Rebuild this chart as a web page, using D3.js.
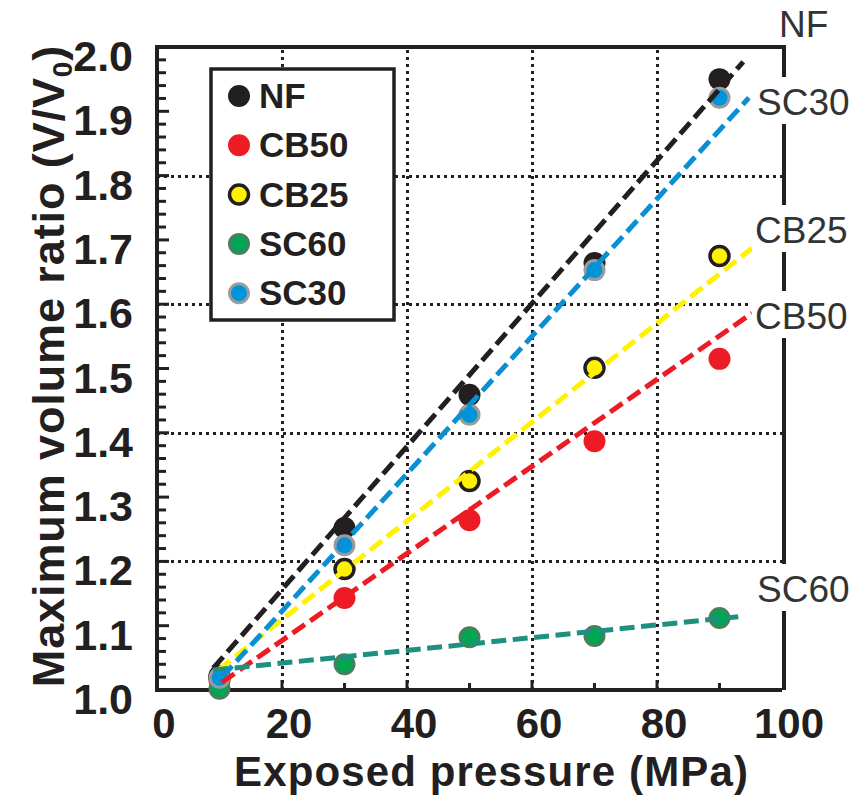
<!DOCTYPE html>
<html>
<head>
<meta charset="utf-8">
<script src="https://cdn.jsdelivr.net/npm/d3@7"></script>
<style>
  body { margin: 0; background: #fff; }
  svg text { font-family: "Liberation Sans", Arial, Helvetica, sans-serif; fill: #231f20; }
</style>
</head>
<body>
<div id="chart"></div>
<script>
// Maximum volume ratio vs exposed pressure

// data
const pressures = [10, 30, 50, 70, 90];
const seriesNames = ["NF", "CB50", "CB25", "SC60", "SC30"];
const nfValues   = [1.022, 1.252, 1.459, 1.664, 1.950];
const cb50Values = [1.015, 1.143, 1.264, 1.387, 1.515];
const cb25Values = [1.020, 1.188, 1.325, 1.501, 1.675];
const sc60Values = [1.002, 1.040, 1.082, 1.084, 1.112];
const sc30Values = [1.019, 1.225, 1.428, 1.653, 1.921];

// fitted (dashed) lines: [pressure, ratio] at start and end
const fitStarts = [[9.0, 1.034], [10.4, 1.012], [9.8, 1.031], [9.0, 1.031], [10.4, 1.020]];
const fitEnds   = [[93.8, 1.977], [95.2, 1.586], [95.2, 1.687], [93.0, 1.114], [94.7, 1.921]];

const xTicks = [0, 20, 40, 60, 80, 100];
const yTicks = [1.0, 1.1, 1.2, 1.3, 1.4, 1.5, 1.6, 1.7, 1.8, 1.9, 2.0];
const xGrid = [20, 40, 60, 80];
const yGrid = [1.2, 1.4, 1.6, 1.8];

const allValues = [nfValues, cb50Values, cb25Values, sc60Values, sc30Values];

// styles per series
const styles = {
    NF:   {fill: "#231f20", stroke: "none",    sw: 0,   line: "#231f20"},
    CB50: {fill: "#ed1c24", stroke: "none",    sw: 0,   line: "#ed1c24"},
    CB25: {fill: "#fff200", stroke: "#231f20", sw: 3.5, line: "#fff200"},
    SC60: {fill: "#00a651", stroke: "#4b7d5f", sw: 3,   line: "#1f9080"},
    SC30: {fill: "#0095db", stroke: "#9b9b9b", sw: 3,   line: "#0a90d2"}
};

const width = 861, height = 795;

const svg = d3.select("#chart").append("svg")
    .attr("width", width)
    .attr("height", height);

const x = d3.scaleLinear().domain([0, 100]).range([157, 782]);
const y = d3.scaleLinear().domain([1, 2]).range([690, 47]);

// dotted grid
const grid = svg.append("g")
    .attr("stroke", "#231f20")
    .attr("stroke-width", 3)
    .attr("shape-rendering", "crispEdges")
    .attr("stroke-dasharray", "3,4");

grid.selectAll("line.v").data(xGrid).enter().append("line")
    .attr("class", "v")
    .attr("x1", d => Math.round(x(d)) + 0.5).attr("x2", d => Math.round(x(d)) + 0.5)
    .attr("y1", y(1)).attr("y2", y(2));

grid.selectAll("line.h").data(yGrid).enter().append("line")
    .attr("class", "h")
    .attr("x1", x(0)).attr("x2", x(100))
    .attr("y1", d => Math.round(y(d)) + 0.5).attr("y2", d => Math.round(y(d)) + 0.5);

// frame
const frame = svg.append("g")
    .attr("stroke", "#231f20")
    .attr("stroke-width", 4)
    .attr("fill", "none");

frame.append("path")
    .attr("d", `M${x(100)},${y(1)} H${x(0)} V${y(2)} H${x(100) + 2} V${y(1)}`)
    .attr("stroke-linejoin", "miter");

// y ticks (minor every 0.02, major every 0.1)
const yMinor = d3.range(0, 51).map(i => 1 + i * 0.02);
frame.selectAll("line.yt").data(yMinor).enter().append("line")
    .attr("class", "yt")
    .attr("stroke-width", 3)
    .attr("x1", x(0))
    .attr("x2", (d, i) => x(0) + (i % 5 === 0 ? 12 : 9))
    .attr("y1", d => y(d)).attr("y2", d => y(d));

// x ticks
const xMinor = d3.range(10, 100, 10);
frame.selectAll("line.xt").data(xMinor).enter().append("line")
    .attr("class", "xt")
    .attr("stroke-width", 3)
    .attr("x1", d => x(d)).attr("x2", d => x(d))
    .attr("y1", y(1))
    .attr("y2", d => y(1) - (d % 20 === 0 ? 10 : 7));

// tick labels
svg.append("g").selectAll("text").data(yTicks).enter().append("text")
    .attr("x", 133)
    .attr("y", d => y(d) + 24)
    .attr("text-anchor", "end")
    .attr("font-size", 43)
    .attr("font-weight", "bold")
    .text(d => d.toFixed(1));

svg.append("g").selectAll("text").data(xTicks).enter().append("text")
    .attr("x", d => x(d) + 7)
    .attr("y", 738)
    .attr("text-anchor", "middle")
    .attr("font-size", 42)
    .attr("font-weight", "bold")
    .text(d => d);

// axis titles
svg.append("text")
    .attr("x", 491)
    .attr("y", 786)
    .attr("text-anchor", "middle")
    .attr("font-size", 42)
    .attr("font-weight", "bold")
    .attr("textLength", 514)
    .attr("lengthAdjust", "spacing")
    .text("Exposed pressure (MPa)");

const yTitle = svg.append("text")
    .attr("transform", "translate(64,366) rotate(-90)")
    .attr("text-anchor", "middle")
    .attr("font-size", 45)
    .attr("letter-spacing", 0.9)
    .attr("font-weight", "bold");
yTitle.append("tspan").text("Maximum volume ratio (V/V");
yTitle.append("tspan").attr("font-size", 28).attr("dy", 8).text("0");
yTitle.append("tspan").attr("dy", -8).text(")");

// points
seriesNames.forEach((name, si) => {
    const st = styles[name];
    svg.append("g").selectAll("circle")
        .data(pressures.map((p, i) => [p, allValues[si][i]]))
        .enter().append("circle")
        .attr("cx", d => x(d[0]))
        .attr("cy", d => y(d[1]))
        .attr("r", st.sw ? 9.5 : 11)
        .attr("fill", st.fill)
        .attr("stroke", st.stroke)
        .attr("stroke-width", st.sw);
});

// dashed fit lines on top of points
seriesNames.forEach((name, si) => {
    svg.append("line")
        .attr("x1", x(fitStarts[si][0])).attr("y1", y(fitStarts[si][1]))
        .attr("x2", x(fitEnds[si][0])).attr("y2", y(fitEnds[si][1]))
        .attr("stroke", styles[name].line)
        .attr("stroke-width", 5)
        .attr("stroke-dasharray", "15,6.5");
});

// labels at the right end of each line (white box breaks the frame)
const endLabels = [
    {name: "NF",   x: 779, base: 37},
    {name: "SC30", x: 757, base: 115},
    {name: "CB25", x: 755, base: 243},
    {name: "CB50", x: 755, base: 329},
    {name: "SC60", x: 757, base: 602}
];
endLabels.forEach(l => {
    if (l.name !== "NF") {
        svg.append("rect")
            .attr("x", l.x - 3).attr("y", l.base - 38)
            .attr("width", 100).attr("height", 47)
            .attr("fill", "#fff");
    }
    svg.append("text")
        .attr("x", l.x).attr("y", l.base)
        .attr("font-size", 37)
        .style("fill", "#333")
        .text(l.name);
});

// legend
const legend = svg.append("g");
legend.append("rect")
    .attr("x", 211).attr("y", 69)
    .attr("width", 183).attr("height", 251)
    .attr("fill", "#fff")
    .attr("stroke", "#231f20")
    .attr("stroke-width", 3.5);

seriesNames.forEach((name, i) => {
    const st = styles[name];
    const base = 108 + i * 49.3;
    legend.append("circle")
        .attr("cx", 239).attr("cy", base - 12)
        .attr("r", st.sw ? 9.5 : 11)
        .attr("fill", st.fill)
        .attr("stroke", st.stroke)
        .attr("stroke-width", st.sw);
    legend.append("text")
        .attr("x", 259).attr("y", base)
        .attr("font-size", 35)
        .attr("font-weight", "bold")
        .text(name);
});
</script>
</body>
</html>
